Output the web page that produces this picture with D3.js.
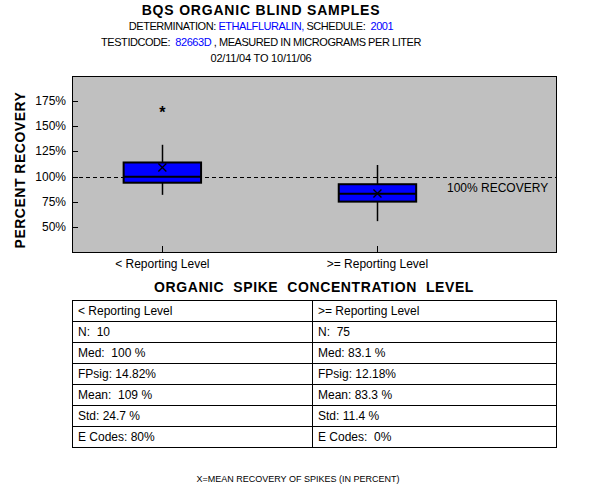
<!DOCTYPE html>
<html>
<head>
<meta charset="utf-8">
<script src="https://cdn.jsdelivr.net/npm/d3@7"></script>
<style>
  body { margin: 0; background: #fff; }
  text { font-family: "Liberation Sans", Arial, sans-serif; white-space: pre; }
</style>
</head>
<body>
<div class="plot"></div>
<script>
// categories and box statistics (percent recovery)
var categories = ["< Reporting Level", ">= Reporting Level"];
var q1 = [94, 75.3];
var median = [100, 83.1];
var q3 = [114, 92.5];
var whiskerLow = [82, 56];
var whiskerHigh = [131.5, 111.5];
var means = [109, 83.3];
var outliers = [[167], []];

var yTicks = [50, 75, 100, 125, 150, 175];

// table rows
var tableLeft = ["< Reporting Level", "N:  10", "Med:  100 %", "FPsig: 14.82%", "Mean:  109 %", "Std: 24.7 %", "E Codes: 80%"];
var tableRight = [">= Reporting Level", "N:  75", "Med: 83.1 %", "FPsig: 12.18%", "Mean: 83.3 %", "Std: 11.4 %", "E Codes:  0%"];

var svg = d3.select(".plot").append("svg")
  .attr("width", 600)
  .attr("height", 500);

// titles
svg.append("text")
  .attr("x", 261).attr("y", 15)
  .style("text-anchor", "middle")
  .style("font-size", "14px")
  .style("font-weight", "bold")
  .style("letter-spacing", "0.8px")
  .text("BQS ORGANIC BLIND SAMPLES");

var t2 = svg.append("text")
  .attr("x", 261).attr("y", 30)
  .style("text-anchor", "middle")
  .style("font-size", "11px")
  .style("letter-spacing", "-0.45px");
t2.append("tspan").text("DETERMINATION: ");
t2.append("tspan").style("fill", "#0000ff").text("ETHALFLURALIN,");
t2.append("tspan").text(" SCHEDULE:  ");
t2.append("tspan").style("fill", "#0000ff").text("2001");

var t3 = svg.append("text")
  .attr("x", 261).attr("y", 46)
  .style("text-anchor", "middle")
  .style("font-size", "11px")
  .style("letter-spacing", "-0.45px");
t3.append("tspan").text("TESTIDCODE:  ");
t3.append("tspan").style("fill", "#0000ff").text("82663D");
t3.append("tspan").text(" , MEASURED IN MICROGRAMS PER LITER");

svg.append("text")
  .attr("x", 261).attr("y", 62)
  .style("text-anchor", "middle")
  .style("font-size", "11px")
  .style("letter-spacing", "-0.2px")
  .text("02/11/04 TO 10/11/06");

// plot area
var pLeft = 72, pRight = 556, pTop = 76, pBottom = 252;

var y = d3.scaleLinear().domain([25, 200]).range([252.5, 75.5]);
var x = d3.scaleLinear().domain([0.58, 2.83]).range([pLeft, pRight]);
var boxW = 0.36;

svg.append("rect")
  .attr("x", pLeft + 0.5).attr("y", pTop + 0.5)
  .attr("width", pRight - pLeft).attr("height", pBottom - pTop)
  .style("fill", "#c0c0c0")
  .style("stroke", "#000")
  .style("stroke-width", 1.3)
  .attr("shape-rendering", "crispEdges");

// y axis, ticks drawn inside
var yAxis = svg.append("g")
  .attr("transform", "translate(" + pLeft + ",0)")
  .call(d3.axisRight(y).tickValues(yTicks).tickSize(6).tickFormat(""));
yAxis.select(".domain").remove();
yAxis.selectAll("line").attr("shape-rendering", "crispEdges");

svg.selectAll(".ylab")
  .data(yTicks)
  .enter().append("text")
  .attr("class", "ylab")
  .attr("x", pLeft - 6)
  .attr("y", function(d) { return y(d) + 4; })
  .style("text-anchor", "end")
  .style("font-size", "12px")
  .text(function(d) { return d + "%"; });

svg.append("text")
  .attr("transform", "translate(25,170) rotate(-90)")
  .style("text-anchor", "middle")
  .style("font-size", "14px")
  .style("font-weight", "bold")
  .style("letter-spacing", "0.5px")
  .text("PERCENT RECOVERY");

// x ticks and labels
var xTicks = categories.map(function(d, i) { return i + 1; });
svg.selectAll(".xtick")
  .data(xTicks)
  .enter().append("line")
  .attr("x1", function(d) { return Math.round(x(d)) + 0.5; })
  .attr("x2", function(d) { return Math.round(x(d)) + 0.5; })
  .attr("y1", pBottom).attr("y2", pBottom - 6)
  .style("stroke", "#000");

svg.selectAll(".xlab")
  .data(categories)
  .enter().append("text")
  .attr("x", function(d, i) { return x(i + 1); })
  .attr("y", 268)
  .style("text-anchor", "middle")
  .style("font-size", "12px")
  .text(function(d) { return d; });

// 100% reference line
svg.append("line")
  .attr("x1", pLeft).attr("x2", pRight)
  .attr("y1", Math.round(y(100)) + 0.5).attr("y2", Math.round(y(100)) + 0.5)
  .style("stroke", "#000")
  .style("stroke-dasharray", "4,3");

svg.append("text")
  .attr("x", 447).attr("y", 192)
  .style("font-size", "12px")
  .text("100% RECOVERY");

// boxes
var boxes = svg.selectAll(".box")
  .data(categories)
  .enter().append("g")
  .attr("class", "box");

boxes.append("line")
  .attr("x1", function(d, i) { return Math.round(x(i + 1)) + 0.5; })
  .attr("x2", function(d, i) { return Math.round(x(i + 1)) + 0.5; })
  .attr("y1", function(d, i) { return y(whiskerHigh[i]); })
  .attr("y2", function(d, i) { return y(whiskerLow[i]); })
  .style("stroke", "#000")
  .style("stroke-width", 1.5);

boxes.append("rect")
  .attr("x", function(d, i) { return x(i + 1 - boxW / 2); })
  .attr("y", function(d, i) { return y(q3[i]); })
  .attr("width", function(d, i) { return x(i + 1 + boxW / 2) - x(i + 1 - boxW / 2); })
  .attr("height", function(d, i) { return y(q1[i]) - y(q3[i]); })
  .style("fill", "#0000ff")
  .style("stroke", "#000")
  .style("stroke-width", 2);

boxes.append("line")
  .attr("x1", function(d, i) { return x(i + 1 - boxW / 2); })
  .attr("x2", function(d, i) { return x(i + 1 + boxW / 2); })
  .attr("y1", function(d, i) { return y(median[i]); })
  .attr("y2", function(d, i) { return y(median[i]); })
  .style("stroke", "#000")
  .style("stroke-width", 2);

// mean markers
boxes.append("path")
  .attr("transform", function(d, i) { return "translate(" + x(i + 1) + "," + y(means[i]) + ")"; })
  .attr("d", "M-4,-4L4,4M4,-4L-4,4")
  .style("stroke", "#000")
  .style("stroke-width", 1.3);

// outliers
outliers.forEach(function(arr, i) {
  svg.selectAll(".out" + i)
    .data(arr)
    .enter().append("text")
    .attr("x", x(i + 1))
    .attr("y", function(d) { return y(d) + 9; })
    .style("text-anchor", "middle")
    .style("font-size", "16px")
    .style("font-weight", "bold")
    .text("*");
});

// section title
svg.append("text")
  .attr("x", 314).attr("y", 292)
  .style("text-anchor", "middle")
  .style("font-size", "14px")
  .style("font-weight", "bold")
  .style("letter-spacing", "0.6px")
  .text("ORGANIC  SPIKE  CONCENTRATION  LEVEL");

// table
var tTop = 300, rowH = 21, tMid = 312;
var rows = d3.range(tableLeft.length);
var tbl = svg.append("g").attr("shape-rendering", "crispEdges");

tbl.append("rect")
  .attr("x", pLeft + 0.5).attr("y", tTop + 0.5)
  .attr("width", pRight - pLeft).attr("height", rowH * rows.length)
  .style("fill", "none").style("stroke", "#000").style("stroke-width", 1.5);

tbl.selectAll(".hline")
  .data(rows.slice(1))
  .enter().append("line")
  .attr("x1", pLeft).attr("x2", pRight)
  .attr("y1", function(d) { return tTop + d * rowH + 0.5; })
  .attr("y2", function(d) { return tTop + d * rowH + 0.5; })
  .style("stroke", "#000").style("stroke-width", 1.5);

tbl.append("line")
  .attr("x1", tMid + 0.5).attr("x2", tMid + 0.5)
  .attr("y1", tTop).attr("y2", tTop + rowH * rows.length)
  .style("stroke", "#000");

svg.selectAll(".tl")
  .data(tableLeft)
  .enter().append("text")
  .attr("x", 78)
  .attr("y", function(d, i) { return tTop + i * rowH + 15; })
  .style("font-size", "12px")
  .text(function(d) { return d; });

svg.selectAll(".tr")
  .data(tableRight)
  .enter().append("text")
  .attr("x", 318)
  .attr("y", function(d, i) { return tTop + i * rowH + 15; })
  .style("font-size", "12px")
  .text(function(d) { return d; });

svg.append("text")
  .attr("x", 298).attr("y", 482)
  .style("text-anchor", "middle")
  .style("font-size", "9px")
  .text("X=MEAN RECOVERY OF SPIKES (IN PERCENT)");
</script>
</body>
</html>
